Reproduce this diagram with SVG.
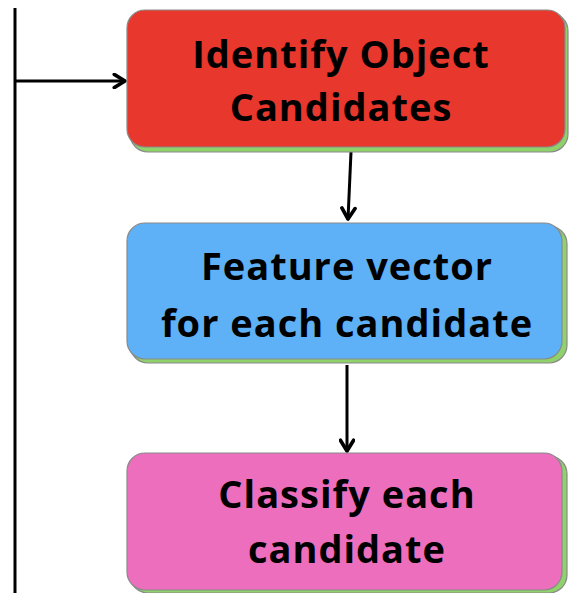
<svg xmlns="http://www.w3.org/2000/svg" width="569" height="593" viewBox="0 0 569 593">
  <style>
    .shadow { fill: #8fd16a; stroke: #8a8a8a; stroke-width: 1.2; }
    .box { stroke: #8a8a8a; stroke-width: 1.2; }
    .label { font-family: "Open Sans", "Noto Sans", sans-serif; font-weight: bold; font-size: 38px; letter-spacing: 1px; fill: #000; text-anchor: middle; }
    .wire { stroke: #000; stroke-width: 3; fill: none; }
  </style>
  <defs>
    <marker id="head" viewBox="0 0 10 10" refX="8.5" refY="5" markerWidth="5.5" markerHeight="5.5" orient="auto" markerUnits="strokeWidth">
      <path d="M2,1 L8.5,5 L2,9" fill="none" stroke="#000" stroke-width="2.2" stroke-linecap="round" stroke-linejoin="round"/>
    </marker>
  </defs>
  <rect width="569" height="593" fill="#fff"/>

  <g id="connectors">
    <line class="wire" x1="15" y1="8" x2="15" y2="593"/>
    <line class="wire" x1="15" y1="81" x2="125" y2="81" marker-end="url(#head)"/>
    <line class="wire" x1="351" y1="152" x2="348" y2="219" marker-end="url(#head)"/>
    <line class="wire" x1="347" y1="365" x2="347" y2="451" marker-end="url(#head)"/>
  </g>

  <g id="identify">
    <rect class="shadow" x="130" y="13" width="438" height="139" rx="18"/>
    <rect class="box" x="127" y="10" width="438" height="137" rx="18" fill="#e8372c"/>
    <text class="label" x="341" y="68">Identify Object</text>
    <text class="label" x="341" y="121">Candidates</text>
  </g>

  <g id="feature">
    <rect class="shadow" x="130" y="226" width="437" height="137" rx="18"/>
    <rect class="box" x="127" y="223" width="435" height="136" rx="18" fill="#5eb0f7"/>
    <text class="label" x="347" y="280">Feature vector</text>
    <text class="label" x="347" y="337">for each candidate</text>
  </g>

  <g id="classify">
    <rect class="shadow" x="130" y="456" width="437" height="137" rx="18"/>
    <rect class="box" x="127" y="453" width="435" height="137" rx="18" fill="#ec6ebd"/>
    <text class="label" x="347" y="508">Classify each</text>
    <text class="label" x="347" y="563">candidate</text>
  </g>
</svg>
